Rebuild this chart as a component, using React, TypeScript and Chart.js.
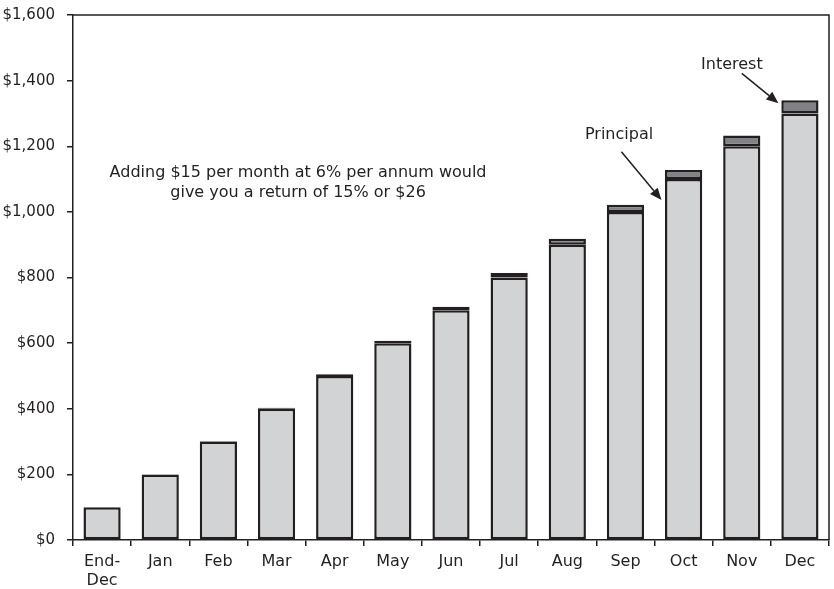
import { useEffect, useRef } from "react";
import { Chart, registerables } from "chart.js";

Chart.register(...registerables);

// Month-end balances: money paid in and the interest it has earned
const categories: (string | string[])[] = [
  ["End-", "Dec"], "Jan", "Feb", "Mar", "Apr", "May", "Jun",
  "Jul", "Aug", "Sep", "Oct", "Nov", "Dec",
];
const principal = [100, 200, 300, 400, 500, 600, 700, 800, 900, 1000, 1100, 1200, 1300];
const interest = [0, 0.5, 1.5, 3, 5, 7.5, 10.5, 14, 18, 22, 28, 33, 40];
const yTickValues = [0, 200, 400, 600, 800, 1000, 1200, 1400, 1600];
const noteLines = [
  "Adding $15 per month at 6% per annum would",
  "give you a return of 15% or $26",
];

const INK = "#231f20";
const LIGHT = "#d1d3d4";
const DARK = "#808285";
const FONT = "'DejaVu Sans', sans-serif";

// Text and arrows placed in data units (category index, dollar value)
const notePlace = { index: 3.37, value: 1105, gap: 20 };
const callouts = [
  { text: "Principal", at: [8.89, 1221], from: [8.93, 1183], to: [9.62, 1036] },
  { text: "Interest", at: [10.83, 1435], from: [11.0, 1422], to: [11.63, 1331] },
];

const decorPlugin = {
  id: "decor",
  afterDraw(chart: any) {
    const { ctx, chartArea: a, scales } = chart;
    const xs = scales.x;
    const ys = scales.y;
    const px = (i: number) => xs.getPixelForValue(i);
    const py = (v: number) => ys.getPixelForValue(v);
    ctx.save();

    // closing frame along top and right
    ctx.strokeStyle = INK;
    ctx.lineWidth = 1.5;
    ctx.beginPath();
    ctx.moveTo(a.left, a.top);
    ctx.lineTo(a.right, a.top);
    ctx.lineTo(a.right, a.bottom);
    ctx.stroke();

    ctx.fillStyle = INK;
    ctx.font = `16px ${FONT}`;
    ctx.textAlign = "center";
    ctx.textBaseline = "alphabetic";
    noteLines.forEach((line, i) => {
      ctx.fillText(line, px(notePlace.index), py(notePlace.value) + i * notePlace.gap);
    });

    callouts.forEach((c) => {
      ctx.fillText(c.text, px(c.at[0]), py(c.at[1]));
      const x0 = px(c.from[0]);
      const y0 = py(c.from[1]);
      const x1 = px(c.to[0]);
      const y1 = py(c.to[1]);
      const ang = Math.atan2(y1 - y0, x1 - x0);
      const head = 12;
      const half = 5;
      const bx = x1 - head * Math.cos(ang);
      const by = y1 - head * Math.sin(ang);
      ctx.lineWidth = 1.5;
      ctx.beginPath();
      ctx.moveTo(x0, y0);
      ctx.lineTo(bx, by);
      ctx.stroke();
      ctx.beginPath();
      ctx.moveTo(x1, y1);
      ctx.lineTo(bx + half * Math.sin(ang), by - half * Math.cos(ang));
      ctx.lineTo(bx - half * Math.sin(ang), by + half * Math.cos(ang));
      ctx.closePath();
      ctx.fill();
    });

    ctx.restore();
  },
};

export default function App() {
  const canvasRef = useRef<HTMLCanvasElement | null>(null);

  useEffect(() => {
    if (!canvasRef.current) return;
    const chart = new Chart(canvasRef.current, {
      type: "bar",
      data: {
        labels: categories,
        datasets: [
          {
            label: "Principal",
            data: principal,
            backgroundColor: LIGHT,
            borderColor: INK,
            borderWidth: 2.5,
            borderSkipped: false,
            barPercentage: 0.64,
            categoryPercentage: 1,
          },
          {
            label: "Interest",
            data: interest,
            backgroundColor: DARK,
            borderColor: INK,
            borderWidth: 2.5,
            borderSkipped: false,
            barPercentage: 0.64,
            categoryPercentage: 1,
          },
        ],
      },
      options: {
        responsive: false,
        animation: false,
        devicePixelRatio: 1,
        layout: { padding: { top: 15, right: 5, bottom: 0, left: 0 } },
        plugins: {
          legend: { display: false },
          tooltip: { enabled: false },
        },
        scales: {
          x: {
            stacked: true,
            grid: {
              offset: true,
              drawOnChartArea: false,
              drawTicks: true,
              tickLength: 6,
              color: INK,
              lineWidth: 1.5,
            },
            border: { display: true, color: INK, width: 1.5 },
            ticks: {
              color: INK,
              padding: 6,
              maxRotation: 0,
              autoSkip: false,
              font: { family: FONT, size: 16, lineHeight: 1.19 },
            },
            afterFit(scale: any) {
              scale.height = 49;
              scale.paddingLeft = 0;
              scale.paddingRight = 0;
            },
          },
          y: {
            stacked: true,
            min: 0,
            max: 1600,
            afterBuildTicks(scale: any) {
              scale.ticks = yTickValues.map((v) => ({ value: v }));
            },
            grid: {
              drawOnChartArea: false,
              drawTicks: true,
              tickLength: 6,
              color: INK,
              lineWidth: 1.5,
            },
            border: { display: true, color: INK, width: 1.5 },
            ticks: {
              color: INK,
              padding: 12,
              font: { family: FONT, size: 15 },
              callback: (v: any) => "$" + Number(v).toLocaleString("en-US"),
            },
            afterFit(scale: any) {
              scale.width = 73;
              scale.paddingTop = 0;
              scale.paddingBottom = 0;
            },
          },
        },
      },
      plugins: [decorPlugin],
    });
    return () => chart.destroy();
  }, []);

  return (
    <div
      style={{
        position: "absolute",
        left: 0,
        top: 0,
        width: 834,
        height: 589,
        background: "#ffffff",
      }}
    >
      <canvas ref={canvasRef} width={834} height={589} />
    </div>
  );
}
